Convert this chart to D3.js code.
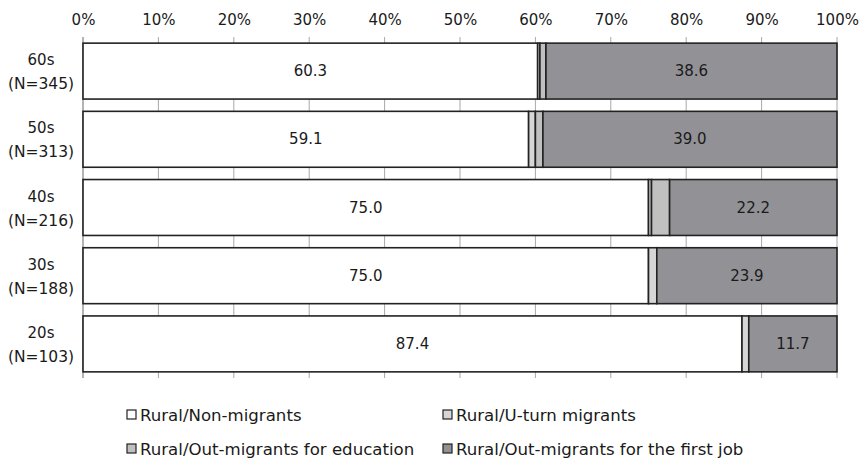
<!DOCTYPE html>
<html>
<head>
<meta charset="utf-8">
<script src="https://cdn.jsdelivr.net/npm/d3@7"></script>
<style>
  html, body { margin: 0; padding: 0; background: #fff; }
  svg text { font-family: "DejaVu Sans", "Noto Sans CJK JP", sans-serif; fill: #1a1a1a; }
</style>
</head>
<body>
<svg id="chart" width="860" height="461"></svg>
<script>
// Age groups (top to bottom) and their sample sizes
const ageGroups = ["60s", "50s", "40s", "30s", "20s"];
const sampleSizes = [345, 313, 216, 188, 103];

// Share (%) of each origin/migration type within an age group
const nonMigrants   = [60.3, 59.1, 75.0, 75.0, 87.4];
const uTurn         = [0.3, 0.9, 0.4, 1.1, 0.9];
const outEducation  = [0.8, 1.0, 2.4, 0.0, 0.0];
const outFirstJob   = [38.6, 39.0, 22.2, 23.9, 11.7];

const seriesNames = [
  "Rural/Non-migrants",
  "Rural/U-turn migrants",
  "Rural/Out-migrants for education",
  "Rural/Out-migrants for the first job"
];
const seriesColors = ["#ffffff", "#d6d6d6", "#c0c0c0", "#929296"];
const labelledSeries = [0, 3];

const tickValues = [0, 10, 20, 30, 40, 50, 60, 70, 80, 90, 100];

const seriesValues = [nonMigrants, uTurn, outEducation, outFirstJob];
const rows = ageGroups.map((g, i) => {
  const r = { group: g };
  seriesNames.forEach((s, k) => { r[s] = seriesValues[k][i]; });
  return r;
});

const svg = d3.select("#chart");
const margin = { left: 83, right: 23, top: 37, bottom: 83 };
const W = 860, H = 461;

const x = d3.scaleLinear().domain([0, 100]).range([margin.left, W - margin.right]);
const y = d3.scaleBand().domain(ageGroups).range([margin.top, H - margin.bottom]).paddingInner(0.18).paddingOuter(0.09);

// vertical gridlines
svg.append("g").selectAll("line").data(tickValues.slice(1)).join("line")
  .attr("x1", d => x(d)).attr("x2", d => x(d))
  .attr("y1", margin.top).attr("y2", H - margin.bottom)
  .attr("stroke", "#a8a8a8").attr("stroke-width", 1);

// value axis on top
const xAxis = d3.axisTop(x).tickValues(tickValues).tickFormat(d => d + "%").tickSize(0).tickPadding(12);
const ax = svg.append("g").attr("transform", `translate(0,${margin.top})`).call(xAxis);
ax.select(".domain").remove();
ax.selectAll("text").attr("font-size", 15).attr("font-family", "DejaVu Sans");

// category axis line
svg.append("line")
  .attr("x1", x(0)).attr("x2", x(0))
  .attr("y1", margin.top).attr("y2", H - margin.bottom)
  .attr("stroke", "#9a9a9a").attr("stroke-width", 1.5);

// stacked bars
const stacked = d3.stack().keys(seriesNames)(rows);
const layers = svg.append("g").selectAll("g").data(stacked).join("g")
  .attr("fill", (d, i) => seriesColors[i]);
layers.selectAll("rect").data(d => d.filter(p => p[1] - p[0] > 0)).join("rect")
  .attr("x", d => x(d[0]))
  .attr("width", d => x(d[1]) - x(d[0]))
  .attr("y", d => y(d.data.group))
  .attr("height", y.bandwidth())
  .attr("stroke", "#222")
  .attr("stroke-width", 1.6);

// value labels for the two main segments
labelledSeries.forEach(k => {
  svg.append("g").selectAll("text").data(stacked[k]).join("text")
    .attr("x", d => (x(d[0]) + x(d[1])) / 2)
    .attr("y", d => y(d.data.group) + y.bandwidth() / 2)
    .attr("text-anchor", "middle")
    .attr("dominant-baseline", "central")
    .attr("font-size", 15)
    .text(d => (d[1] - d[0]).toFixed(1));
});

// category labels
const cat = svg.append("g").selectAll("g").data(ageGroups).join("g")
  .attr("transform", d => `translate(41,${y(d) + y.bandwidth() / 2})`);
cat.append("text").attr("text-anchor", "middle").attr("y", -11)
  .attr("dominant-baseline", "central").attr("font-size", 15).text(d => d);
cat.append("text").attr("text-anchor", "middle").attr("y", 13)
  .attr("dominant-baseline", "central").attr("font-size", 15.5)
  .text((d, i) => `(N=${sampleSizes[i]})`);

// legend
const legendPos = [[127, 415], [443, 415], [127, 449], [443, 449]];
const lg = svg.append("g").selectAll("g").data(seriesNames).join("g")
  .attr("transform", (d, i) => `translate(${legendPos[i][0]},${legendPos[i][1]})`);
lg.append("rect").attr("x", 0).attr("y", -5).attr("width", 9).attr("height", 9)
  .attr("fill", (d, i) => seriesColors[i]).attr("stroke", "#222").attr("stroke-width", 1.2);
lg.append("text").attr("x", 13).attr("dominant-baseline", "central")
  .attr("font-size", 16.6).text(d => d);
</script>
</body>
</html>
